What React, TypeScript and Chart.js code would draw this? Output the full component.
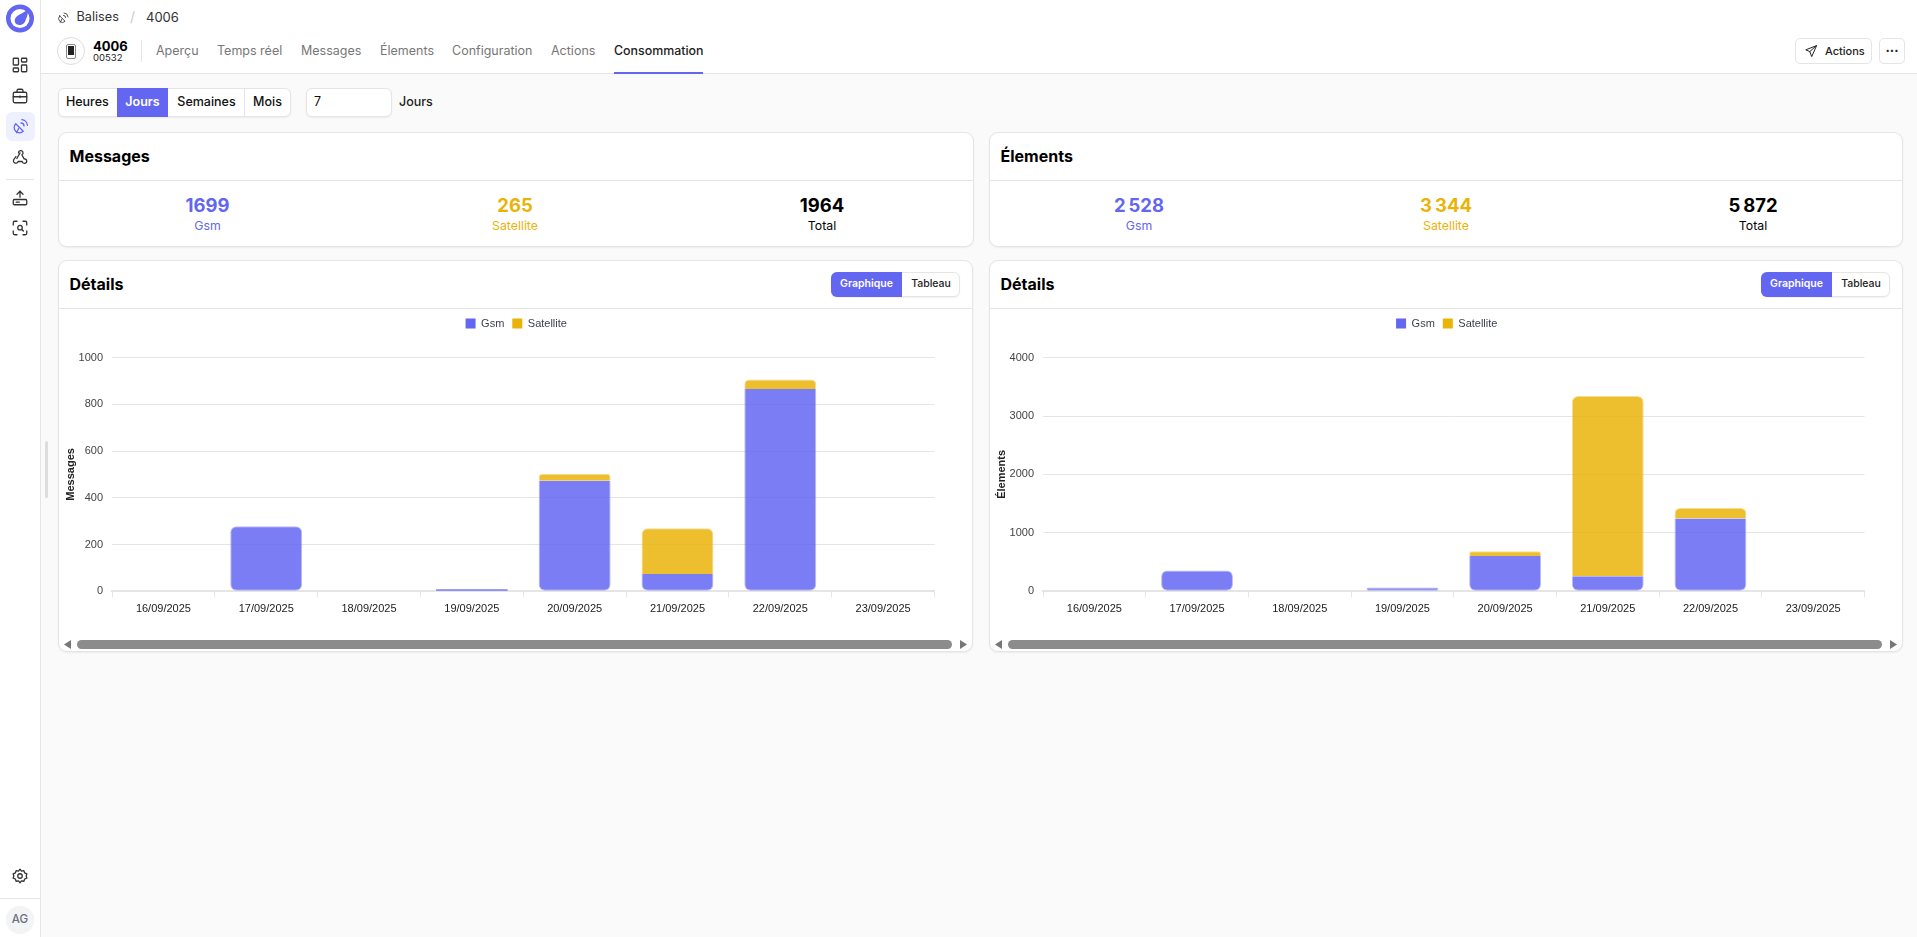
import React, { useEffect, useRef } from "react";
import { Chart, registerables } from "chart.js";

Chart.register(...registerables);

const days = ["16/09/2025", "17/09/2025", "18/09/2025", "19/09/2025", "20/09/2025", "21/09/2025", "22/09/2025", "23/09/2025"];
const messagesGsm = [0, 278, 0, 8, 473, 74, 866, 0];
const messagesSatellite = [0, 0, 0, 0, 30, 195, 40, 0];
const elementsGsm = [0, 356, 0, 64, 603, 258, 1247, 0];
const elementsSatellite = [0, 0, 0, 0, 80, 3085, 179, 0];
const tabs: [string, number][] = [["Aperçu", 156], ["Temps réel", 217], ["Messages", 301], ["Élements", 380], ["Configuration", 452], ["Actions", 551], ["Consommation", 614]];

const INDIGO = "#6366f1";
const AMBER = "#eab308";
const UI = "Inter, 'Noto Sans', sans-serif";
const CHARTFONT = "'Liberation Sans', Arial, sans-serif";
const BORDER = "#e5e5e5";

function T({ x, y, size = 13, weight = 400, color = "#111", center, children }: any) {
  return (
    <div style={{ position: "absolute", left: x, top: y, fontFamily: UI, fontSize: size, fontWeight: weight, color, whiteSpace: "nowrap", lineHeight: 1, transform: `translate(${center ? "-50%" : "0"},-50%)` }}>
      {children}
    </div>
  );
}

function Box({ x, y, w, h, style, children }: any) {
  return <div style={{ position: "absolute", left: x, top: y, width: w, height: h, boxSizing: "border-box", ...style }}>{children}</div>;
}

function Icon({ x, y, size = 18, color = "#333", sw = 1.7, children }: any) {
  return (
    <svg style={{ position: "absolute", left: x - size / 2, top: y - size / 2 }} width={size} height={size} viewBox="0 0 24 24" fill="none" stroke={color} strokeWidth={sw} strokeLinecap="round" strokeLinejoin="round">
      {children}
    </svg>
  );
}

const radar = (
  <>
    <path d="M5 9 L15 19 A7 7 0 0 1 5 9 Z" />
    <path d="M9 15 L6 21" />
    <path d="M12 8 A4 4 0 0 1 16 12" />
    <path d="M13 3.5 A8 8 0 0 1 20.5 11" />
  </>
);

function BarChart({ left, width, gsm, satellite, max, step, title }: any) {
  const ref = useRef<HTMLCanvasElement>(null);
  useEffect(() => {
    const chart = new Chart(ref.current!, {
      type: "bar",
      data: {
        labels: days,
        datasets: [
          {
            label: "Gsm",
            data: gsm,
            backgroundColor: "rgba(99,102,241,0.85)",
            borderColor: "rgba(99,102,241,0.45)",
            borderWidth: (c: any) => (gsm[c.dataIndex] / max > 0.012 ? 1 : 0),
            borderSkipped: (c: any) => (satellite[c.dataIndex] ? "top" : false),
            borderRadius: (c: any) => {
              const r = satellite[c.dataIndex] ? 0 : 6;
              return { topLeft: r, topRight: r, bottomLeft: 6, bottomRight: 6 };
            },
          },
          {
            label: "Satellite",
            data: satellite,
            backgroundColor: "rgba(234,179,8,0.85)",
            borderColor: "rgba(234,179,8,0.45)",
            borderWidth: (c: any) => (satellite[c.dataIndex] ? 1 : 0),
            borderSkipped: "bottom",
            borderRadius: { topLeft: 6, topRight: 6, bottomLeft: 0, bottomRight: 0 },
          },
        ] as any,
      },
      plugins: [
        {
          id: "legendGap",
          beforeInit(c: any) {
            const fit = c.legend.fit;
            c.legend.fit = function () {
              fit.call(this);
              this.height += 19.6;
            };
            const draw = c.legend.draw;
            c.legend.draw = function () {
              const ctx = c.ctx;
              ctx.save();
              ctx.translate(19.5, 1);
              draw.call(this);
              ctx.restore();
            };
          },
        },
      ],
      options: {
        animation: false,
        responsive: false,
        layout: { padding: { right: 37.5 } },
        datasets: { bar: { categoryPercentage: 0.7, barPercentage: 1 } },
        plugins: {
          tooltip: { enabled: false },
          legend: {
            position: "top",
            labels: {
              boxWidth: 10,
              boxHeight: 10,
              padding: 8,
              color: "#3a3f4b",
              font: { family: CHARTFONT, size: 11 },
              generateLabels: () => [
                { text: "Gsm", fillStyle: INDIGO, strokeStyle: INDIGO, lineWidth: 0, fontColor: "#3a3f4b", datasetIndex: 0 },
                { text: "Satellite", fillStyle: AMBER, strokeStyle: AMBER, lineWidth: 0, fontColor: "#3a3f4b", datasetIndex: 1 },
              ],
            },
          },
        },
        scales: {
          x: {
            stacked: true,
            afterFit: (s: any) => { s.height = 47.8; },
            grid: { color: BORDER, drawOnChartArea: false, tickLength: 6 },
            border: { color: BORDER, width: 2 },
            ticks: { color: "#222", padding: 5.5, maxRotation: 0, autoSkip: false, font: { family: CHARTFONT, size: 11 } },
          },
          y: {
            stacked: true,
            min: 0,
            max,
            afterFit: (s: any) => { s.width = 53; },
            ticks: { stepSize: step, color: "#444", padding: 9, font: { family: CHARTFONT, size: 11 }, callback: (v: any) => String(v) },
            grid: { color: BORDER, drawTicks: false, tickLength: 0 },
            border: { display: false },
            title: { display: true, text: title, color: "#222", font: { family: CHARTFONT, size: 11, weight: "bold" }, padding: { top: 5, bottom: 0 } },
          },
        },
      } as any,
    });
    return () => chart.destroy();
  }, []);
  return <canvas ref={ref} width={width} height={330} style={{ position: "absolute", left, top: 309, width, height: 330 }} />;
}

const cardStyle = { background: "#fff", border: `1px solid ${BORDER}`, borderRadius: 9, boxShadow: "0 1px 2px rgba(0,0,0,0.06)" };

function Stats({ x, w, title, cols }: any) {
  return (
    <>
      <Box x={x} y={132} w={w} h={114.5} style={cardStyle} />
      <Box x={x} y={180} w={w} h={1} style={{ background: BORDER }} />
      <T x={x + 11.5} y={156} size={16} weight={700} color="#000">{title}</T>
      {cols.map((c: any, i: number) => (
        <React.Fragment key={i}>
          <T x={c.x} y={205} size={18.5} weight={700} color={c.color} center>{c.v}</T>
          <T x={c.x} y={225.5} size={12.3} color={c.color} center>{c.l}</T>
        </React.Fragment>
      ))}
    </>
  );
}

function Details({ x, w, chartW, togX, gsm, satellite, max, step, title }: any) {
  const scrollY = 640;
  return (
    <>
      <Box x={x} y={260} w={w} h={392} style={cardStyle} />
      <Box x={x} y={308} w={w} h={1} style={{ background: BORDER }} />
      <T x={x + 11.5} y={284} size={16} weight={700} color="#000">Détails</T>
      <Box x={togX} y={272} w={129} h={25} style={{ ...cardStyle, borderRadius: 6 }} />
      <Box x={togX} y={272} w={71} h={25} style={{ background: INDIGO, borderRadius: "6px 0 0 6px" }} />
      <T x={togX + 35.5} y={284} size={10.5} weight={600} color="#fff" center>Graphique</T>
      <T x={togX + 100} y={284} size={10.5} weight={500} color="#222" center>Tableau</T>
      <BarChart left={x + 1} width={chartW} gsm={gsm} satellite={satellite} max={max} step={step} title={title} />
      <Box x={x + 19} y={scrollY} w={w - 40} h={9} style={{ background: "#8c8c8c", borderRadius: 5 }} />
      <svg style={{ position: "absolute", left: x + 5, top: scrollY }} width={10} height={9}><path d="M8 0 L8 9 L1 4.5 Z" fill="#777" /></svg>
      <svg style={{ position: "absolute", left: x + w - 15, top: scrollY }} width={10} height={9}><path d="M2 0 L2 9 L9 4.5 Z" fill="#777" /></svg>
    </>
  );
}

export default function App() {
  return (
    <div style={{ position: "fixed", inset: 0, background: "#fafafa", overflow: "hidden", fontFamily: UI }}>
      {/* sidebar */}
      <Box x={0} y={0} w={41} h={937} style={{ background: "#fff", borderRight: `1px solid ${BORDER}` }} />
      <svg style={{ position: "absolute", left: 6, top: 4 }} width={28} height={29} viewBox="0 0 28 29">
        <circle cx="14" cy="14.5" r="14" fill={INDIGO} />
        <circle cx="14" cy="14.5" r="9.5" fill="#fff" />
        <path d="M22 6 C22 9 21.5 12 20 15 C19 19.5 16 21 13.5 21 C10 21 8 18 9 15 C10 12 13 11 15.5 9.5 C18 8 20 7 22 6 Z" fill={INDIGO} />
      </svg>
      <Icon x={20} y={65}><rect x="3" y="3" width="7" height="9" rx="1" /><rect x="14" y="3" width="7" height="5" rx="1" /><rect x="14" y="12" width="7" height="9" rx="1" /><rect x="3" y="16" width="7" height="5" rx="1" /></Icon>
      <Icon x={20} y={96}><rect x="3" y="7" width="18" height="14" rx="2" /><path d="M8 7V5a2 2 0 0 1 2-2h4a2 2 0 0 1 2 2v2" /><path d="M3 13h18" /><path d="M12 12v2" /></Icon>
      <Box x={6} y={112} w={29} h={29} style={{ background: "#eef0ff", borderRadius: 6 }} />
      <Icon x={20.5} y={126} color={INDIGO}>{radar}</Icon>
      <Icon x={20} y={157}><path d="M10 6.5a3 3 0 1 1 4.5 2.5l3 5.5" /><path d="M6.5 11.5 4 15a3.2 3.2 0 1 0 5.5 3H15a3 3 0 1 0 3-3.5" /><path d="M12 6.5 7.8 14" /></Icon>
      <Box x={6} y={179} w={28} h={1} style={{ background: BORDER }} />
      <Icon x={20} y={198}><path d="M12 3v8" /><path d="M8 7l4-4 4 4" /><rect x="3" y="14" width="18" height="7" rx="1.5" /><path d="M7 17.5h4" /></Icon>
      <Icon x={20} y={228}><path d="M3 8V5a2 2 0 0 1 2-2h3" /><path d="M16 3h3a2 2 0 0 1 2 2v3" /><path d="M21 16v3a2 2 0 0 1-2 2h-3" /><path d="M8 21H5a2 2 0 0 1-2-2v-3" /><circle cx="12" cy="11.5" r="3" /><path d="M14.5 14l2 2" /></Icon>
      <Icon x={20} y={876}><circle cx="12" cy="12" r="3" /><path d="M12 3l2 2.5 3.2-.6 1 3 3 1.2-1 3 1 2.7-3 1.2-1 3-3.2-.6L12 21l-2-2.6-3.2.6-1-3-3-1.2 1-2.7-1-3 3-1.2 1-3L10 5.5z" /></Icon>
      <Box x={0} y={898} w={41} h={1} style={{ background: BORDER }} />
      <Box x={6} y={906} w={28} h={28} style={{ background: "#f3f4f6", borderRadius: 14 }} />
      <T x={20} y={920} size={11.5} weight={500} color="#6b7280" center>AG</T>

      {/* header */}
      <Box x={41} y={0} w={1876} h={73.5} style={{ background: "#fff", borderBottom: `1px solid ${BORDER}` }} />
      <Icon x={63} y={17} size={13} color="#444">{radar}</Icon>
      <T x={76.5} y={17} size={12.7} weight={400} color="#333">Balises</T>
      <T x={130} y={17} size={14} color="#ccc">/</T>
      <T x={146} y={17} size={13} color="#333">4006</T>
      <Box x={57} y={37} w={28} h={28} style={{ border: `1px solid #ddd`, borderRadius: 14, background: "#fff" }} />
      <Box x={66} y={44} w={10} h={15} style={{ background: "#fff", borderRadius: 2, border: "1px solid #888" }}>
        <div style={{ position: "absolute", left: 1, top: 1, width: 6, height: 9, background: "#222" }} />
      </Box>
      <T x={93} y={45.5} size={13} weight={700} color="#000">4006</T>
      <T x={93} y={58} size={9.5} color="#222">00532</T>
      <Box x={141} y={40} w={1} h={22} style={{ background: BORDER }} />
      {tabs.map(([t, x], i) => (
        <T key={t} x={x} y={51} size={i === 6 ? 12.4 : 12.5} weight={i === 6 ? 500 : 400} color={i === 6 ? "#222" : "#777"}>{t}</T>
      ))}
      <Box x={614} y={71.5} w={89} h={2} style={{ background: INDIGO }} />
      <Box x={1795} y={38} w={77} h={26} style={{ border: `1px solid ${BORDER}`, borderRadius: 5, background: "#fff" }} />
      <Icon x={1811} y={51} size={14} color="#222"><path d="M21 3 L3 10 L10 13 L13 21 Z" /><path d="M21 3 L10 13" /></Icon>
      <T x={1825} y={50.5} size={11} weight={500} color="#222">Actions</T>
      <Box x={1879} y={38} w={26} h={26} style={{ border: `1px solid ${BORDER}`, borderRadius: 5, background: "#fff" }} />
      <T x={1892} y={49.5} size={13} weight={700} color="#222" center>···</T>

      {/* period selector */}
      <Box x={57.5} y={88} w={233} h={29} style={{ ...cardStyle, borderRadius: 6 }} />
      <Box x={117} y={88} w={51} h={29} style={{ background: INDIGO }} />
      <Box x={244} y={88} w={1} h={29} style={{ background: BORDER }} />
      <T x={87.3} y={102} size={12.5} weight={500} center>Heures</T>
      <T x={142.5} y={102} size={12.5} weight={600} color="#fff" center>Jours</T>
      <T x={206.5} y={102} size={12.5} weight={500} center>Semaines</T>
      <T x={267.5} y={102} size={12.5} weight={500} center>Mois</T>
      <Box x={306} y={88} w={86} h={29} style={{ ...cardStyle, borderRadius: 6 }} />
      <T x={314} y={102} size={12.5}>7</T>
      <T x={399} y={102} size={12.5} weight={500} color="#222">Jours</T>

      {/* cards */}
      <Stats x={58} w={916} title="Messages" cols={[
        { x: 207.5, v: "1699", l: "Gsm", color: INDIGO },
        { x: 515, v: "265", l: "Satellite", color: AMBER },
        { x: 822, v: "1964", l: "Total", color: "#000" },
      ]} />
      <Stats x={989} w={914} title="Élements" cols={[
        { x: 1139, v: "2\u202F528", l: "Gsm", color: INDIGO },
        { x: 1446, v: "3\u202F344", l: "Satellite", color: AMBER },
        { x: 1753, v: "5\u202F872", l: "Total", color: "#000" },
      ]} />
      <Details x={58} w={915} chartW={913} togX={831} gsm={messagesGsm} satellite={messagesSatellite} max={1000} step={200} title="Messages" />
      <Details x={989} w={914} chartW={912} togX={1761} gsm={elementsGsm} satellite={elementsSatellite} max={4000} step={1000} title="Élements" />

      {/* panel handle */}
      <Box x={45} y={441} w={3} h={57} style={{ background: "#ddd", borderRadius: 2 }} />
    </div>
  );
}
